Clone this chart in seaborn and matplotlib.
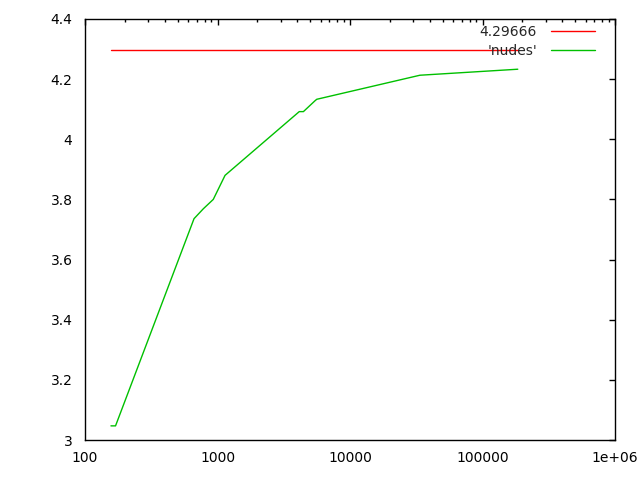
import matplotlib
matplotlib.use("Agg")
import matplotlib.pyplot as plt
import matplotlib.ticker as mticker
import seaborn as sns
import pandas as pd

# data
nudes_x = [157, 170, 665, 782, 929, 1140, 4140, 4450, 5440, 5610, 33700, 184600]
nudes_y = [3.047, 3.047, 3.736, 3.769, 3.800, 3.880, 4.092, 4.092, 4.128, 4.133, 4.213, 4.233]
const_value = 4.29666
const_label = "4.29666"
series_label = "'nudes'"
x_ticks = [100, 1000, 10000, 100000, 1000000]
x_tick_labels = ["100", "1000", "10000", "100000", "1e+06"]
y_ticks = [3.0, 3.2, 3.4, 3.6, 3.8, 4.0, 4.2, 4.4]
y_tick_labels = ["3", "3.2", "3.4", "3.6", "3.8", "4", "4.2", "4.4"]

sns.set_style("white")
plt.rcParams["font.family"] = ["DejaVu Sans"]

fig = plt.figure(figsize=(6.4, 4.8), dpi=100)
ax = fig.add_axes([85/640, 1-440/480, (615-85)/640, (440-19)/480])

df_const = pd.DataFrame({"x": [nudes_x[0], nudes_x[-1]], "y": [const_value, const_value]})
df_nudes = pd.DataFrame({"x": nudes_x, "y": nudes_y})

sns.lineplot(data=df_const, x="x", y="y", ax=ax, color="#ff0000", linewidth=1.0,
             label=const_label, estimator=None)
sns.lineplot(data=df_nudes, x="x", y="y", ax=ax, color="#00c000", linewidth=1.0,
             label=series_label, estimator=None, sort=False)

ax.set_xscale("log")
ax.set_xlim(100, 1e6)
ax.set_ylim(3.0, 4.4)
ax.set_xticks(x_ticks)
ax.xaxis.set_major_formatter(mticker.FixedFormatter(x_tick_labels))
ax.xaxis.set_minor_locator(mticker.LogLocator(base=10, subs=range(2, 10), numticks=20))
ax.xaxis.set_minor_formatter(mticker.NullFormatter())
ax.set_yticks(y_ticks)
ax.set_yticklabels(y_tick_labels)
ax.set_xlabel("")
ax.set_ylabel("")

for s in ax.spines.values():
    s.set_visible(True)
    s.set_color("black")
    s.set_linewidth(1.0)

ax.tick_params(which="both", direction="in", top=True, right=True, colors="black",
               labelsize=10, width=1.0)
ax.tick_params(which="major", length=4.0)
ax.tick_params(which="minor", length=2.0)
ax.tick_params(axis="y", pad=9)
ax.tick_params(axis="x", pad=8)

leg = ax.legend(loc="upper right", frameon=False, markerfirst=False, fontsize=10,
                handlelength=3.2, handletextpad=1.0, borderaxespad=0.3,
                bbox_to_anchor=(1 - 10/530, 1.0 + 4/421), labelspacing=0.4)

fig.savefig("out.png", dpi=100, facecolor="white")
